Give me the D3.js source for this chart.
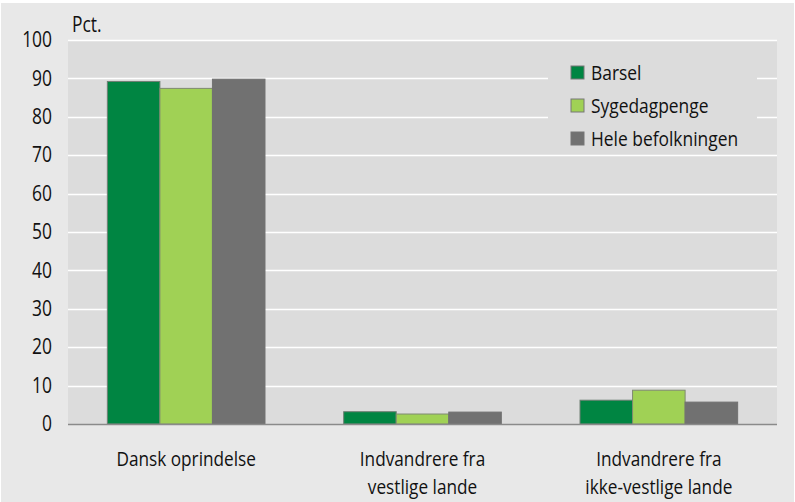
<!DOCTYPE html>
<html><head><meta charset="utf-8">
<script src="https://cdn.jsdelivr.net/npm/d3@7"></script>
<style>body{margin:0;background:#fff}svg{display:block}text{font-family:"Open Sans",sans-serif;fill:#111}</style>
</head><body><svg id="c" width="795" height="502"></svg>
<script>
const categories = [["Dansk oprindelse"],["Indvandrere fra","vestlige lande"],["Indvandrere fra","ikke-vestlige lande"]];
const seriesNames = ["Barsel","Sygedagpenge","Hele befolkningen"];
const barsel = [89.2, 3.2, 6.2];
const sygedagpenge = [87.4, 2.6, 8.8];
const hele = [89.8, 3.1, 5.7];
const yTicks = [0,10,20,30,40,50,60,70,80,90,100];
const colors = ["#008542","#a0d155","#717171"];
const strokes = ["#6f7f74","#7f8a70","#717171"];

const values = [barsel, sygedagpenge, hele];
const svg = d3.select("#c");
svg.append("rect").attr("x",1).attr("y",3).attr("width",793).attr("height",499).attr("fill","#e8e8e8");
const m = {l:68, r:777, t:40, b:424};
svg.append("rect").attr("x",m.l).attr("y",m.t).attr("width",m.r-m.l).attr("height",m.b-m.t).attr("fill","#dcdcdc");
const y = d3.scaleLinear().domain([0,100]).range([m.b,m.t]);
const x0 = d3.scaleBand().domain(d3.range(categories.length)).range([m.l,m.r]).paddingInner(0.333).paddingOuter(0.1665);
const x1 = d3.scaleBand().domain(d3.range(seriesNames.length)).range([0,x0.bandwidth()]);

svg.append("g").selectAll("line").data(yTicks.filter(t=>t>0)).join("line")
  .attr("x1",m.l).attr("x2",m.r).attr("y1",d=>Math.round(y(d))+0.5).attr("y2",d=>Math.round(y(d))+0.5)
  .attr("stroke","#fff").attr("stroke-width",1.5);

svg.append("rect").attr("x",548).attr("y",52).attr("width",209).attr("height",98).attr("fill","#dcdcdc");

const g = svg.append("g");
categories.forEach((c,i)=>{
  values.forEach((vals,s)=>{
    g.append("rect")
      .attr("x",x0(i)+x1(s)).attr("y",y(vals[i]))
      .attr("width",x1.bandwidth()).attr("height",y(0)-y(vals[i]))
      .attr("fill",colors[s]).attr("stroke",strokes[s]).attr("stroke-width",1);
  });
});

svg.append("line").attr("x1",m.l).attr("x2",m.r).attr("y1",m.b+0.5).attr("y2",m.b+0.5).attr("stroke","#8a8a8a").attr("stroke-width",1.5);

const ky = 0.83;
const yAxis = d3.axisLeft(y).tickValues(yTicks).tickSize(0).tickPadding(16);
const ya = svg.append("g").attr("transform",`translate(${m.l},0)`).call(yAxis);
ya.select(".domain").remove();
ya.selectAll("text").style("font-size","21px").style("font-family",null).attr("fill","#111")
  .attr("x",-16/ky).attr("transform",`scale(${ky},1)`);

svg.append("g").attr("transform","translate(72,32)")
  .append("text").attr("transform","scale(0.83,1)").style("font-size","21px").text("Pct.");

const kx = 0.84;
const xa = svg.append("g");
categories.forEach((lines,i)=>{
  const cx = x0(i)+x0.bandwidth()/2;
  lines.forEach((l,k)=>{
    xa.append("g").attr("transform",`translate(${cx},${466 + k*28})`)
      .append("text").attr("transform",`scale(${kx},1)`).attr("text-anchor","middle").style("font-size","20.5px").text(l);
  });
});

const kl = 0.87;
const lg = svg.append("g");
seriesNames.forEach((n,s)=>{
  lg.append("rect").attr("x",571).attr("y",66+s*33).attr("width",13).attr("height",13).attr("fill",colors[s]).attr("stroke","#777").attr("stroke-width",1);
  lg.append("g").attr("transform",`translate(591,${80+s*33})`)
    .append("text").attr("transform",`scale(${kl},1)`).style("font-size","20px").text(n);
});
</script></body></html>
